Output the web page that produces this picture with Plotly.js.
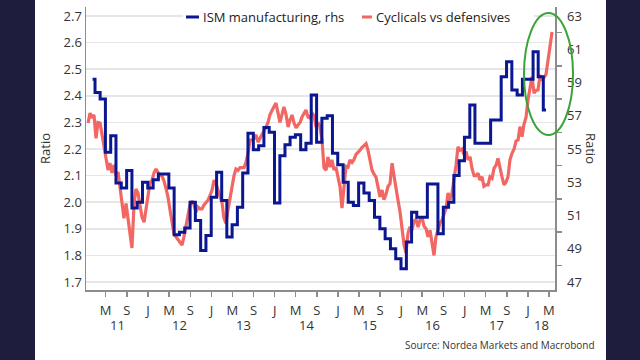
<!DOCTYPE html>
<html><head><meta charset="utf-8">
<script src="https://cdn.plot.ly/plotly-3.0.1.min.js"></script>
<style>
html,body{margin:0;padding:0;background:#1f1d3e;width:640px;height:360px;overflow:hidden}
#chart{position:absolute;left:35px;top:0;width:571px;height:360px;background:#fff}
</style></head><body><div id="chart"></div>
<script>
// Cyclicals vs defensives ratio (left axis), sampled roughly every 11.5 days from 2011-01-20
const redValues = [
2.298,2.335,2.317,2.328,2.24,2.30,2.298,2.253,2.21,2.17,2.121,2.147,2.11,2.14,2.10,2.114,2.057,2.008,1.94,1.995,
1.944,1.884,1.828,1.99,2.05,2.035,1.982,1.944,1.925,1.97,2.038,2.072,2.083,2.11,2.125,2.11,2.10,2.10,2.08,2.05,
2.02,1.97,1.933,1.88,1.87,1.86,1.85,1.839,1.87,1.907,1.944,1.99,2.005,1.99,1.963,1.982,1.975,1.975,1.99,1.997,
2.008,2.025,2.045,2.083,2.07,2.045,2.02,1.997,1.94,1.92,1.97,2.02,2.06,2.10,2.125,2.12,2.13,2.129,2.13,2.15,
2.185,2.234,2.234,2.24,2.253,2.226,2.24,2.255,2.27,2.283,2.30,2.33,2.345,2.36,2.373,2.335,2.30,2.33,2.358,2.33,
2.283,2.309,2.328,2.298,2.28,2.29,2.30,2.32,2.335,2.347,2.32,2.317,2.335,2.325,2.283,2.30,2.283,2.234,2.13,2.12,
2.17,2.132,2.159,2.121,2.132,2.095,2.057,1.978,2.08,2.135,2.132,2.159,2.15,2.16,2.18,2.19,2.196,2.205,2.212,2.22,
2.196,2.159,2.121,2.105,2.095,2.057,2.02,2.046,2.01,2.03,2.06,2.07,2.147,2.10,2.06,2.008,1.963,1.895,1.84,1.81,
1.884,1.907,1.895,1.93,1.935,1.907,1.933,1.944,1.91,1.90,1.87,1.895,1.847,1.80,1.87,1.895,1.922,1.933,1.96,1.975,
2.035,2.008,2.035,2.08,2.14,2.208,2.196,2.20,2.18,2.19,2.159,2.171,2.127,2.10,2.10,2.109,2.083,2.096,2.06,2.065,
2.065,2.096,2.09,2.127,2.14,2.165,2.121,2.096,2.065,2.075,2.096,2.159,2.184,2.20,2.23,2.234,2.284,2.246,2.293,2.32,
2.384,2.434,2.472,2.41,2.42,2.422,2.478,2.459,2.47,2.48,2.535,2.585,2.64
];
// ISM manufacturing (right axis), monthly Feb 2011 .. Apr 2018
const ismValues = [
59.2,58.4,58.0,54.8,55.8,52.95,52.65,53.7,51.45,51.8,53.0,
52.65,53.15,53.5,53.5,52.65,49.85,50.0,50.25,51.8,50.7,48.9,49.8,
52.1,53.6,51.9,49.7,50.45,51.5,53.55,55.95,54.95,55.2,56.3,56.0,
51.75,54.6,55.25,55.7,55.85,54.95,55.35,58.25,55.4,56.85,57.0,54.75,
54.05,53.0,51.8,51.6,52.95,52.35,51.9,50.9,50.2,49.6,49.0,48.4,
47.8,49.4,51.2,50.9,50.9,52.9,52.9,49.9,51.5,51.8,53.4,54.3,
55.7,57.65,55.35,55.35,55.35,56.75,56.75,59.35,60.25,58.55,58.25,59.2,
59.2,60.85,59.35,57.35
];
const xTickLetters = ['M','S','J'];
const yearLabels = ['11','12','13','14','15','16','17','18'];
const leftTicks = [1.7,1.8,1.9,2.0,2.1,2.2,2.3,2.4,2.5,2.6,2.7];
const rightTicks = [47,49,51,53,55,57,59,61,63];
const rightMinor = [48,50,52,54,56,58,60,62];
const seriesNames = ['ISM manufacturing, rhs','Cyclicals vs defensives'];

const BLUE='#0b1691', RED='#f26763';
const iso = ms => new Date(ms).toISOString().slice(0,10);
const redStart = Date.UTC(2011,0,20), redStepDays = 11.54;
const redDates = redValues.map((v,i)=>iso(redStart + i*redStepDays*864e5));
const ismDates = ismValues.map((v,i)=>iso(Date.UTC(2011,1+i,15)));

const xStart='2011-01-08', xEnd='2018-06-06';
const xTickVals=[], xTickText=[];
for(let m=4;m<=88;m+=4){xTickVals.push(iso(Date.UTC(2011,m,1)));xTickText.push(xTickLetters[(m/4-1)%3]);}

const annotations=[];
const rs=Date.parse(xStart), re=Date.parse(xEnd);
yearLabels.forEach((lab,i)=>{
  const y=2011+i;
  const a=Math.max(Date.UTC(y,0,1),rs), b=Math.min(Date.UTC(y+1,0,1),re);
  annotations.push({xref:'x',yref:'paper',x:iso((a+b)/2),y:0,yshift:-35,yanchor:'middle',
    text:lab,showarrow:false,font:{size:13,color:'#333'}});
});
annotations.push({xref:'paper',yref:'paper',x:0.2452,y:0.9647,xanchor:'left',yanchor:'middle',
  text:seriesNames[0],showarrow:false,font:{size:13,color:'#222'}});
annotations.push({xref:'paper',yref:'paper',x:0.614,y:0.9647,xanchor:'left',yanchor:'middle',
  text:seriesNames[1],showarrow:false,font:{size:13,color:'#222'}});
annotations.push({xref:'paper',yref:'paper',x:1.0768,y:0.5018,xanchor:'center',yanchor:'middle',
  text:'Ratio',textangle:90,showarrow:false,font:{size:13,color:'#333'}});
annotations.push({xref:'paper',yref:'paper',x:1.0896,y:-0.194,xanchor:'right',yanchor:'middle',
  text:'Source: Nordea Markets and Macrobond',showarrow:false,font:{size:10,color:'#333'}});

const shapes=[
  {type:'rect',xref:'paper',yref:'paper',x0:0.207,x1:0.955,y0:0.935,y1:0.995,fillcolor:'#fff',line:{width:0},layer:'above'},
  {type:'line',xref:'paper',yref:'paper',x0:0.2132,x1:0.2409,y0:0.9647,y1:0.9647,line:{color:BLUE,width:3}},
  {type:'line',xref:'paper',yref:'paper',x0:0.5885,x1:0.6098,y0:0.9647,y1:0.9647,line:{color:RED,width:3}},
  {type:'circle',xref:'paper',yref:'paper',x0:0.9339,x1:1.0384,y0:0.5477,y1:0.9788,line:{color:'#3aa33a',width:2}}
];

const traces=[
  {x:redDates,y:redValues,type:'scatter',mode:'lines',name:seriesNames[1],yaxis:'y',
   line:{color:RED,width:3.2}},
  {x:ismDates,y:ismValues,type:'scatter',mode:'lines',name:seriesNames[0],yaxis:'y2',
   line:{color:BLUE,width:3,shape:'hvh'}}
];
const AX='#8c8c8c';
const layout={
  width:571,height:360,margin:{l:51,r:51,t:7,b:70},
  paper_bgcolor:'#fff',plot_bgcolor:'#fff',showlegend:false,
  font:{family:'"Open Sans", sans-serif',color:'#333',size:13},
  xaxis:{type:'date',range:[xStart,xEnd],tickmode:'array',tickvals:xTickVals,ticktext:xTickText,
    ticks:'outside',ticklen:5,tickcolor:AX,tickwidth:1.5,showline:true,linecolor:AX,linewidth:1.5,
    showgrid:false,zeroline:false,tickfont:{size:13,color:'#333'},ticklabelstandoff:3},
  yaxis:{range:[1.67,2.734],tickmode:'array',tickvals:leftTicks,ticktext:leftTicks.map(v=>v.toFixed(1)),
    showline:true,linecolor:AX,linewidth:1.5,ticks:'',showgrid:true,gridcolor:'#e6e6e6',gridwidth:1.5,
    zeroline:false,tickfont:{size:13,color:'#333'},
    title:{text:'Ratio',font:{size:13,color:'#333'},standoff:10}},
  yaxis2:{overlaying:'y',side:'right',range:[46.52,63.54],tickmode:'array',tickvals:rightTicks,
    showline:true,linecolor:AX,linewidth:1.5,ticks:'',showgrid:false,zeroline:false,
    ticklabelstandoff:8,tickfont:{size:13,color:'#333'},
    minor:{tickmode:'array',tickvals:rightMinor,ticks:'outside',ticklen:5,tickcolor:AX,tickwidth:1.5,showgrid:false}},
  annotations:annotations,shapes:shapes
};
Plotly.newPlot('chart',traces,layout,{staticPlot:true,displayModeBar:false});
</script></body></html>
